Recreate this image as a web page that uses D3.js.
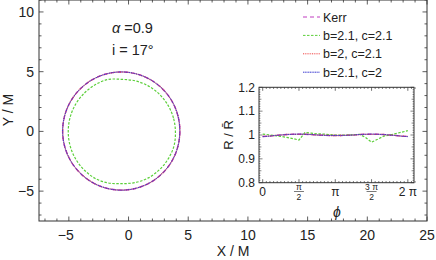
<!DOCTYPE html>
<html>
<head>
<meta charset="utf-8">
<script src="https://cdn.jsdelivr.net/npm/d3@7"></script>
<style>
  body { margin: 0; background: #fff; }
  text { font-family: "Liberation Sans", Arial, sans-serif; fill: #222; }
</style>
</head>
<body>
<svg id="chart" width="436" height="260"></svg>
<script>
// sample angles, in units of pi/12
const phiK = [0, 1, 2, 3, 4, 5, 6, 7, 8, 9, 10, 11, 12, 13, 14, 15, 16, 17, 18, 19, 20, 21, 22, 23, 24];

// R / Rbar
const kerrRatio  = [0.994, 0.995, 0.998, 1.0, 1.002, 1.003, 1.003, 1.003, 1.002, 1.0, 0.999, 0.998, 0.998, 0.998, 0.999, 1.0, 1.002, 1.003, 1.003, 1.003, 1.002, 1.0, 0.998, 0.995, 0.994];
const greenRatio = [1.004, 1.001, 0.997, 0.994, 0.99, 0.985, 0.979, 1.011, 1.008, 1.005, 1.004, 1.002, 1.0, 1.0, 1.0, 1.001, 1.003, 0.99, 0.97, 0.982, 0.995, 1.0, 1.006, 1.012, 1.018];
const redRatio   = [0.994, 0.995, 0.998, 1.0, 1.002, 1.003, 1.003, 1.003, 1.002, 1.0, 0.999, 0.998, 0.998, 0.998, 0.999, 1.0, 1.002, 1.003, 1.003, 1.003, 1.002, 1.0, 0.998, 0.995, 0.994];
const blueRatio  = [0.993, 0.995, 0.998, 1.0, 1.002, 1.003, 1.004, 1.003, 1.002, 1.0, 0.999, 0.998, 0.998, 0.998, 0.999, 1.0, 1.002, 1.003, 1.004, 1.003, 1.002, 1.0, 0.998, 0.995, 0.993];

// shadow centre and mean radius (X/M, Y/M)
const seriesNames = ["Kerr", "b=2.1, c=2.1", "b=2, c=2.1", "b=2.1, c=2"];
const centerX = [-0.6, -0.57, -0.6, -0.6];
const centerY = [0.03, -0.03, 0.03, 0.03];
const meanR   = [4.93, 4.48, 4.93, 4.93];

const xTicks = [-5, 0, 5, 10, 15, 20, 25];
const yTicks = [-5, 0, 5, 10];
const insetYTicks = [0.8, 0.9, 1, 1.1, 1.2];
const insetXTicks = [0, 1, 2, 3, 4]; // multiples of pi/2

const ratios = [kerrRatio, greenRatio, redRatio, blueRatio];
const colors = ["#c03cc0", "#5ccf3a", "#f04545", "#3a3ad0"];
const dashes = ["4,3", "2.5,1.5", "1,0.8", "1.2,0.5"];
const widths = [1.4, 1.2, 1.3, 1.0];

const svg = d3.select("#chart");
const frame = "#333";

// ---- main plot
const x = d3.scaleLinear().domain([-7.5, 25]).range([39, 427]);
const y = d3.scaleLinear().domain([-7.5, 11]).range([221, 0]);

const g = svg.append("g");

// minor + major ticks on the 4 sides
const xMinor = d3.range(-7, 25.01, 1);
const yMinor = d3.range(-7, 11.01, 1);
xMinor.forEach(v => {
  const L = v % 5 === 0 ? 4.5 : 2.5;
  g.append("line").attr("x1", x(v)).attr("x2", x(v)).attr("y1", y(-7.5)).attr("y2", y(-7.5) - L).attr("stroke", frame).attr("stroke-width", 0.8);
  g.append("line").attr("x1", x(v)).attr("x2", x(v)).attr("y1", y(11)).attr("y2", y(11) + L).attr("stroke", frame).attr("stroke-width", 0.8);
});
yMinor.forEach(v => {
  const L = v % 5 === 0 ? 4.5 : 2.5;
  g.append("line").attr("y1", y(v)).attr("y2", y(v)).attr("x1", x(-7.5)).attr("x2", x(-7.5) + L).attr("stroke", frame).attr("stroke-width", 0.8);
  g.append("line").attr("y1", y(v)).attr("y2", y(v)).attr("x1", x(25)).attr("x2", x(25) - L).attr("stroke", frame).attr("stroke-width", 0.8);
});

g.append("rect").attr("x", x(-7.5)).attr("y", y(11)).attr("width", x(25) - x(-7.5)).attr("height", y(-7.5) - y(11))
  .attr("fill", "none").attr("stroke", frame).attr("stroke-width", 1);

const fmt = d => (d < 0 ? "\u2212" + Math.abs(d) : d);
g.selectAll(".xt").data(xTicks).enter().append("text")
  .attr("x", d => x(d) - (d < 0 ? 3 : 0)).attr("y", 240).attr("text-anchor", "middle")
  .attr("font-size", "14px").text(fmt);
g.selectAll(".yt").data(yTicks).enter().append("text")
  .attr("x", 34).attr("y", d => y(d) + 5).attr("text-anchor", "end")
  .attr("font-size", "14px").text(fmt);

g.append("text").attr("x", 233).attr("y", 256).attr("text-anchor", "middle").attr("font-size", "14px").text("X / M");
g.append("text").attr("transform", "translate(13,110) rotate(-90)").attr("text-anchor", "middle").attr("font-size", "14px").text("Y / M");

// shadow curves (closed, last sample repeats the first)
const shadow = d3.line().x(d => x(d[0])).y(d => y(d[1])).curve(d3.curveCardinalClosed);
ratios.forEach((r, i) => {
  const pts = phiK.slice(0, -1).map((k, j) => {
    const a = k * Math.PI / 12, R = meanR[i] * r[j];
    return [centerX[i] + R * Math.cos(a), centerY[i] + R * Math.sin(a)];
  });
  g.append("path").datum(pts).attr("d", shadow).attr("fill", "none")
    .attr("stroke", colors[i]).attr("stroke-width", widths[i]).attr("stroke-dasharray", dashes[i]);
});

g.append("text").attr("x", 112).attr("y", 33).attr("font-size", "14.5px")
  .html('<tspan font-style="italic">\u03b1</tspan> =0.9');
g.append("text").attr("x", 112).attr("y", 55).attr("font-size", "14.5px").text("i = 17\u00b0");

// legend
seriesNames.forEach((n, i) => {
  const ly = 17 + i * 18.4;
  g.append("line").attr("x1", 303).attr("x2", 320).attr("y1", ly).attr("y2", ly)
    .attr("stroke", colors[i]).attr("stroke-width", 1).attr("stroke-dasharray", dashes[i]);
  g.append("text").attr("x", 323).attr("y", ly + 4.5).attr("font-size", "12.5px").text(n);
});

// ---- inset
const ix = d3.scaleLinear().domain([-0.16, 6.55]).range([259, 414]);
const iy = d3.scaleLinear().domain([0.8, 1.2]).range([182.7, 87.3]);
const ins = svg.append("g");
ins.append("rect").attr("x", 259).attr("y", 87.3).attr("width", 155).attr("height", 95.4).attr("fill", "#fff");

d3.range(0, 6.6, Math.PI / 20).forEach((v, k) => {
  const L = k % 10 === 0 ? 3.5 : 1.6;
  ins.append("line").attr("x1", ix(v)).attr("x2", ix(v)).attr("y1", iy(0.8)).attr("y2", iy(0.8) - L).attr("stroke", frame).attr("stroke-width", 0.7);
  ins.append("line").attr("x1", ix(v)).attr("x2", ix(v)).attr("y1", iy(1.2)).attr("y2", iy(1.2) + L).attr("stroke", frame).attr("stroke-width", 0.7);
});
d3.range(0, 41).forEach(k => {
  const v = 0.8 + k * 0.01;
  const L = k % 10 === 0 ? 3.5 : (k % 5 === 0 ? 2.4 : 1.4);
  ins.append("line").attr("y1", iy(v)).attr("y2", iy(v)).attr("x1", ix(-0.16)).attr("x2", ix(-0.16) + L).attr("stroke", frame).attr("stroke-width", 0.6);
  ins.append("line").attr("y1", iy(v)).attr("y2", iy(v)).attr("x1", ix(6.55)).attr("x2", ix(6.55) - L).attr("stroke", frame).attr("stroke-width", 0.6);
});
ins.append("rect").attr("x", 259).attr("y", 87.3).attr("width", 155).attr("height", 95.4)
  .attr("fill", "none").attr("stroke", frame).attr("stroke-width", 1);

ins.selectAll(".iyt").data(insetYTicks).enter().append("text")
  .attr("x", 255).attr("y", d => iy(d) + 4.3).attr("text-anchor", "end").attr("font-size", "12px")
  .text(d => d);

insetXTicks.forEach(k => {
  const px = ix(k * Math.PI / 2);
  if (k % 2 === 0) {
    const lab = k === 0 ? "0" : (k === 2 ? "\u03c0" : "2 \u03c0");
    ins.append("text").attr("x", px).attr("y", 196).attr("text-anchor", "middle").attr("font-size", "12px").text(lab);
  } else {
    const num = k === 1 ? "\u03c0" : "3 \u03c0";
    ins.append("text").attr("x", px).attr("y", 190).attr("text-anchor", "middle").attr("font-size", "8.5px").text(num);
    ins.append("line").attr("x1", px - 5).attr("x2", px + 5).attr("y1", 191.5).attr("y2", 191.5).attr("stroke", "#222").attr("stroke-width", 0.6);
    ins.append("text").attr("x", px).attr("y", 200).attr("text-anchor", "middle").attr("font-size", "8.5px").text("2");
  }
});

ins.append("text").attr("x", 337).attr("y", 217).attr("text-anchor", "middle").attr("font-size", "14px")
  .attr("font-style", "italic").text("\u03d5");
ins.append("text").attr("transform", "translate(233,135) rotate(-90)").attr("text-anchor", "middle")
  .attr("font-size", "13px").text("R / R\u0304");

const iline = d3.line().x((d, j) => ix(phiK[j] * Math.PI / 12)).y(d => iy(d));
ratios.forEach((r, i) => {
  ins.append("path").datum(r).attr("d", iline).attr("fill", "none")
    .attr("stroke", colors[i]).attr("stroke-width", widths[i]).attr("stroke-dasharray", dashes[i]);
});
</script>
</body>
</html>
